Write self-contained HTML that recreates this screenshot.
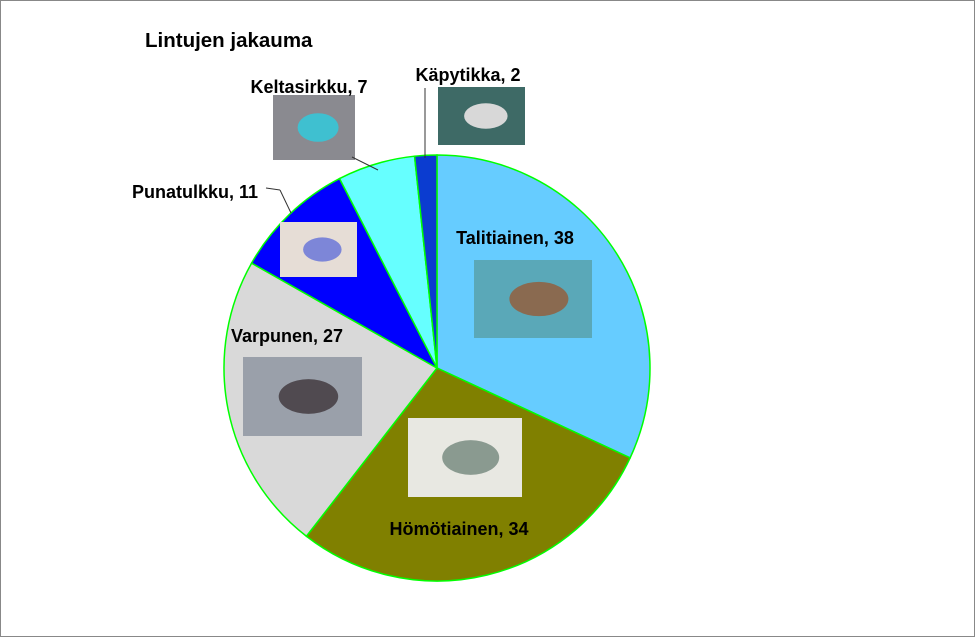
<!DOCTYPE html>
<html><head><meta charset="utf-8"><style>
body{margin:0;background:#fff;}
svg{display:block;font-family:"Liberation Sans",Arial,sans-serif;}
</style></head><body>
<svg id="chart" width="976" height="638" viewBox="0 0 976 638">
<rect x="0.5" y="0.5" width="974" height="636" fill="#fff" stroke="#888"/>
<text x="145" y="47" font-size="20.5" font-weight="bold">Lintujen jakauma</text>
<g id="slices"></g>
<g id="extras"></g>
</svg>
<script>
const categories=["Talitiainen","Hömötiainen","Varpunen","Punatulkku","Keltasirkku","Käpytikka"];
const values=[38,34,27,11,7,2];
const colors=["#66CCFF","#808000","#D9D9D9","#0000FF","#66FFFF","#0B3CD0"];
const cx=437,cy=368,r=213;
const NS="http://www.w3.org/2000/svg";
const total=values.reduce((a,b)=>a+b,0);
function pt(a,rr){return [cx+rr*Math.sin(a),cy-rr*Math.cos(a)];}
const g=document.getElementById('slices');
let acc=0;
values.forEach((v,i)=>{
  const a0=acc/total*2*Math.PI;acc+=v;const a1=acc/total*2*Math.PI;
  const p0=pt(a0,r),p1=pt(a1,r);
  const large=(a1-a0)>Math.PI?1:0;
  const p=document.createElementNS(NS,'path');
  p.setAttribute('d',`M${cx},${cy} L${p0[0]},${p0[1]} A${r},${r} 0 ${large} 1 ${p1[0]},${p1[1]} Z`);
  p.setAttribute('fill',colors[i]);p.setAttribute('stroke','#00FF00');p.setAttribute('stroke-width','1.5');
  
  
  g.appendChild(p);
});
const ex=document.getElementById('extras');
const photos=[
 [474,260,118,78,"#5aa8b8","#8a6a50"],
 [408,418,114,79,"#e8e8e2","#8a9a90"],
 [243,357,119,79,"#9aa0aa","#504a50"],
 [280,222,77,55,"#e6ddd6","#7d86d8"],
 [273,95,82,65,"#8a8a90","#3fc0d0"],
 [438,87,87,58,"#3e6a66","#d8d8d8"]];
photos.forEach((ph,i)=>{
  const rc=document.createElementNS(NS,'rect');
  rc.setAttribute('x',ph[0]);rc.setAttribute('y',ph[1]);rc.setAttribute('width',ph[2]);rc.setAttribute('height',ph[3]);rc.setAttribute('fill',ph[4]);
  
  
  ex.appendChild(rc);
  const e=document.createElementNS(NS,'ellipse');
  e.setAttribute('cx',ph[0]+ph[2]*0.55);e.setAttribute('cy',ph[1]+ph[3]*0.5);e.setAttribute('rx',ph[2]*0.25);e.setAttribute('ry',ph[3]*0.22);e.setAttribute('fill',ph[5]);
  
  
  ex.appendChild(e);
});
const lines=[[352,157,378,170],[266,188,280,190],[280,190,291,213],[425,88,425,158]];
lines.forEach(l=>{
  const ln=document.createElementNS(NS,'line');
  ln.setAttribute('x1',l[0]);ln.setAttribute('y1',l[1]);ln.setAttribute('x2',l[2]);ln.setAttribute('y2',l[3]);ln.setAttribute('stroke','#333');
  
  
  ex.appendChild(ln);
});
const labelPos=[[515,244,"middle"],[459,535,"middle"],[287,342,"middle"],[195,198,"middle"],[309,93,"middle"],[468,81,"middle"]];
categories.forEach((c,i)=>{
  const t=document.createElementNS(NS,'text');
  t.setAttribute('x',labelPos[i][0]);t.setAttribute('y',labelPos[i][1]);t.setAttribute('text-anchor',labelPos[i][2]);
  t.setAttribute('font-size','18');t.setAttribute('font-weight','bold');
  t.textContent=c+", "+values[i];
  
  
  ex.appendChild(t);
});
</script>
</body></html>
